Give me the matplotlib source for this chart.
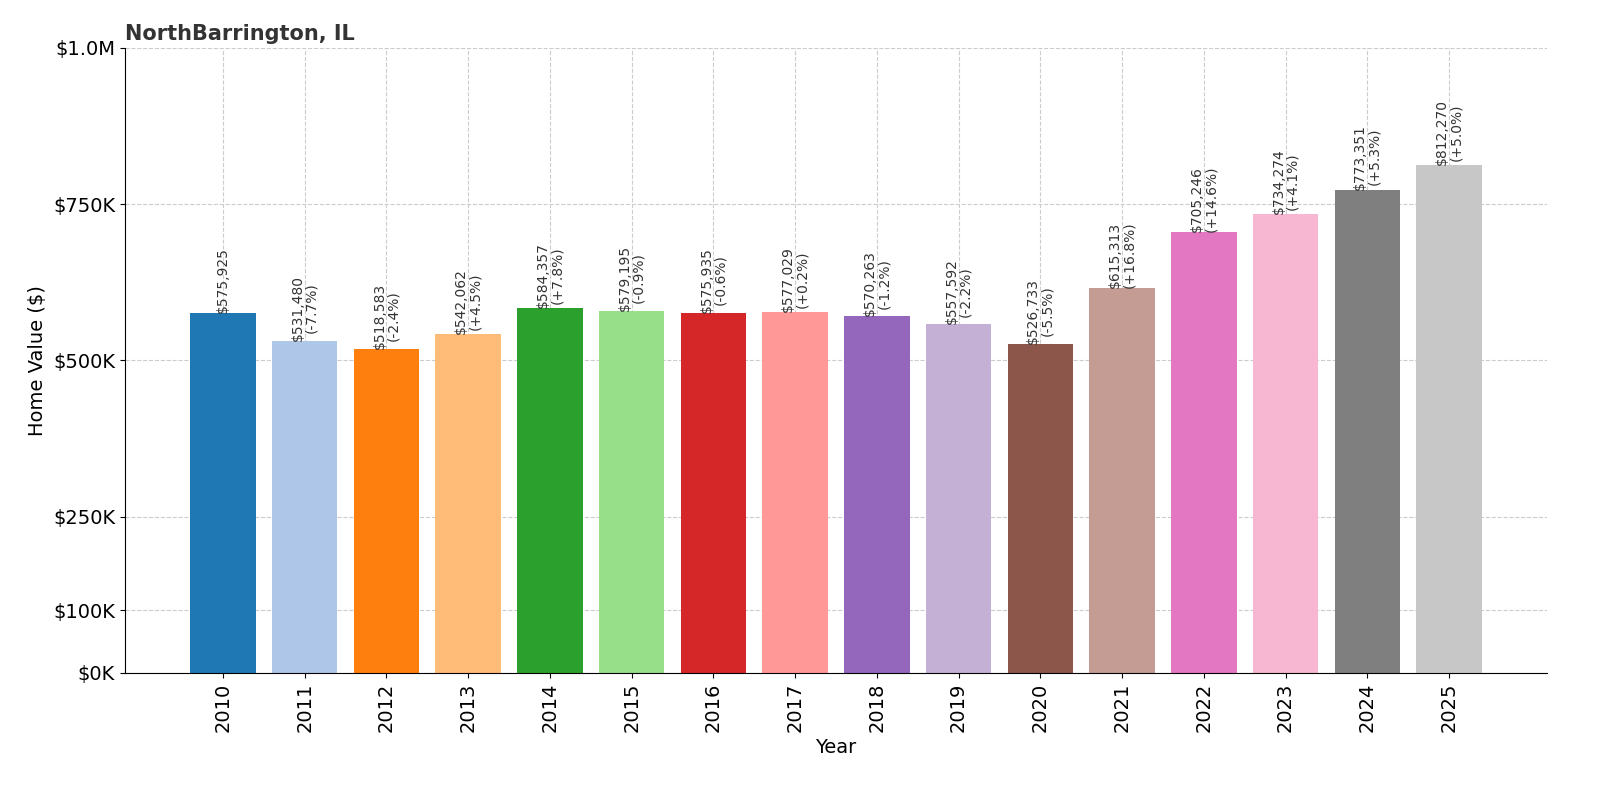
import matplotlib.pyplot as plt
from matplotlib.ticker import FuncFormatter

years = [2010, 2011, 2012, 2013, 2014, 2015, 2016, 2017,
         2018, 2019, 2020, 2021, 2022, 2023, 2024, 2025]
values = [575925, 531480, 518583, 542062, 584357, 579195, 575935, 577029,
          570263, 557592, 526733, 615313, 705246, 734274, 773351, 812270]
yticks = [0, 100000, 250000, 500000, 750000, 1000000]

colors = plt.get_cmap('tab20').colors

fig = plt.figure(figsize=(16, 8), dpi=100)
ax = fig.add_axes([0.078, 0.159, 0.889, 0.781])
x = list(range(len(years)))
ax.bar(x, values, width=0.8, color=[colors[i % 20] for i in x], zorder=2)

for i, v in enumerate(values):
    label = f"${v:,}"
    if i > 0:
        pct = (v - values[i - 1]) / values[i - 1] * 100
        label += f"\n({pct:+.1f}%)"
    ax.text(i, v, label, rotation=90, ha='center', va='bottom',
            fontsize=10, color='#333333', linespacing=1.0)

ax.set_xlim(-1.2, len(years) - 1 + 1.2)
ax.set_ylim(0, 1000000)
ax.set_xticks(x)
ax.set_xticklabels([str(y) for y in years], rotation=90, fontsize=14)
ax.set_yticks(yticks)
ax.yaxis.set_major_formatter(FuncFormatter(
    lambda v, p: '$1.0M' if v >= 1e6 else f'${int(v/1000)}K'))
ax.tick_params(axis='y', labelsize=14)
ax.grid(True, linestyle='--', color='#cccccc', linewidth=0.8, zorder=0)
ax.set_axisbelow(True)
for s in ['top', 'right']:
    ax.spines[s].set_visible(False)
ax.set_xlabel('Year', fontsize=14)
ax.set_ylabel('Home Value ($)', fontsize=14)
ax.set_title('NorthBarrington, IL', loc='left', fontsize=15,
             fontweight='bold', color='#333333')

fig.savefig('out.png')
